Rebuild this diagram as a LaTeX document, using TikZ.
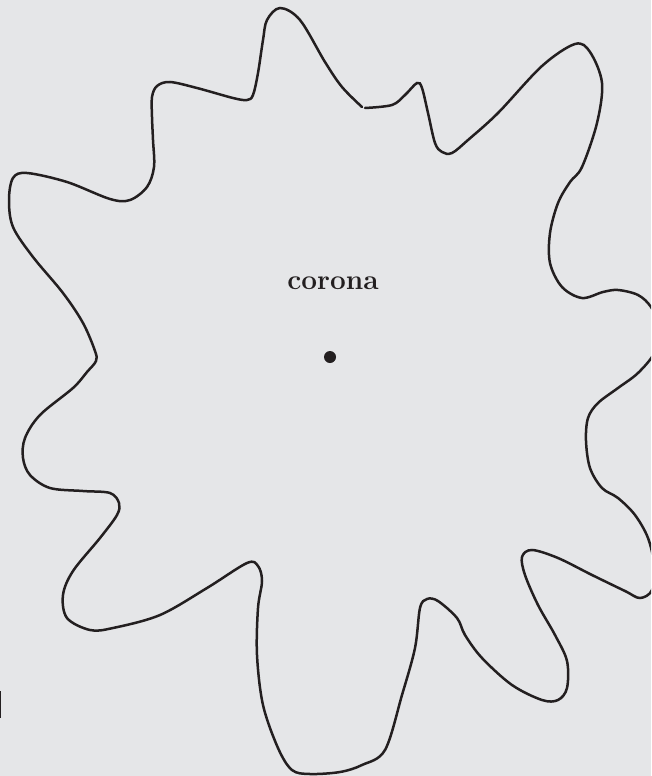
\documentclass[tikz,border=0pt]{standalone}
\usepackage{tikz}
\usetikzlibrary{positioning}
\definecolor{paper}{RGB}{229,230,232}
\definecolor{ink}{RGB}{35,31,32}

\begin{document}
\begin{tikzpicture}[x=1pt,y=-1pt]
  \useasboundingbox (0,0) rectangle (651,776);
  \fill[paper] (0,0) rectangle (651,776);
  \clip (0,0) rectangle (651,776);
  % Wavy outline of the corona (open at the top)
  \draw[ink,line width=2.5pt,line cap=round] plot[smooth,tension=0.55] coordinates {
    (365,108) (392,105) (405,95) (417,83) (422,88) (428,113) (435,143)
    (442,152) (452,153) (468,140) (498,113) (542,66) (575,44) (590,52)
    (602,83) (597,123) (582,167) (570,182) (558,203) (550,233) (550,263)
    (562,287) (582,298) (603,292) (618,290) (638,295) (651,307) (660,328)
    (655,352) (638,373) (618,388) (598,403) (588,418) (586,441) (590,468)
    (602,488) (618,498) (635,515) (648,538) (654,565) (652,590) (640,598)
    (625,591) (592,575) (558,558) (532,550) (522,557) (525,575) (538,605)
    (555,635) (567,661) (567,688) (558,700) (542,700) (512,685) (482,658)
    (465,635) (457,618) (438,601) (427,599) (420,608) (415,648) (402,695)
    (385,750) (362,765) (340,772) (310,774) (292,770) (278,748) (263,705)
    (257,655) (258,608) (262,581) (258,566) (247,563) (207,588) (160,615)
    (113,628) (90,630) (67,618) (63,595) (73,571) (100,538) (117,515)
    (119,503) (110,493) (83,491) (50,488) (30,475) (23,458) (25,438)
    (40,415) (73,388) (87,372) (96,361) (95,351) (83,323) (63,293)
    (33,257) (13,227) (9,200) (13,178) (27,173) (67,182) (110,199)
    (130,200) (147,187) (154,167) (153,140) (152,117) (152,97) (157,86)
    (170,82) (197,88) (233,98) (247,100) (253,95) (258,73) (263,40)
    (267,20) (280,8) (300,20) (325,62) (342,87) (362,107)};
  % Edge of a neighbouring outline
  \draw[ink,line width=2.5pt] (0,691) -- (0,718);
  % Label and centre
  \node[ink,font=\fontsize{28}{32}\selectfont\bfseries] (corona) at (333,283) {corona};
  \coordinate (centre) at (330,357);
  \fill[ink] (centre) circle[radius=6pt];
\end{tikzpicture}
\end{document}
